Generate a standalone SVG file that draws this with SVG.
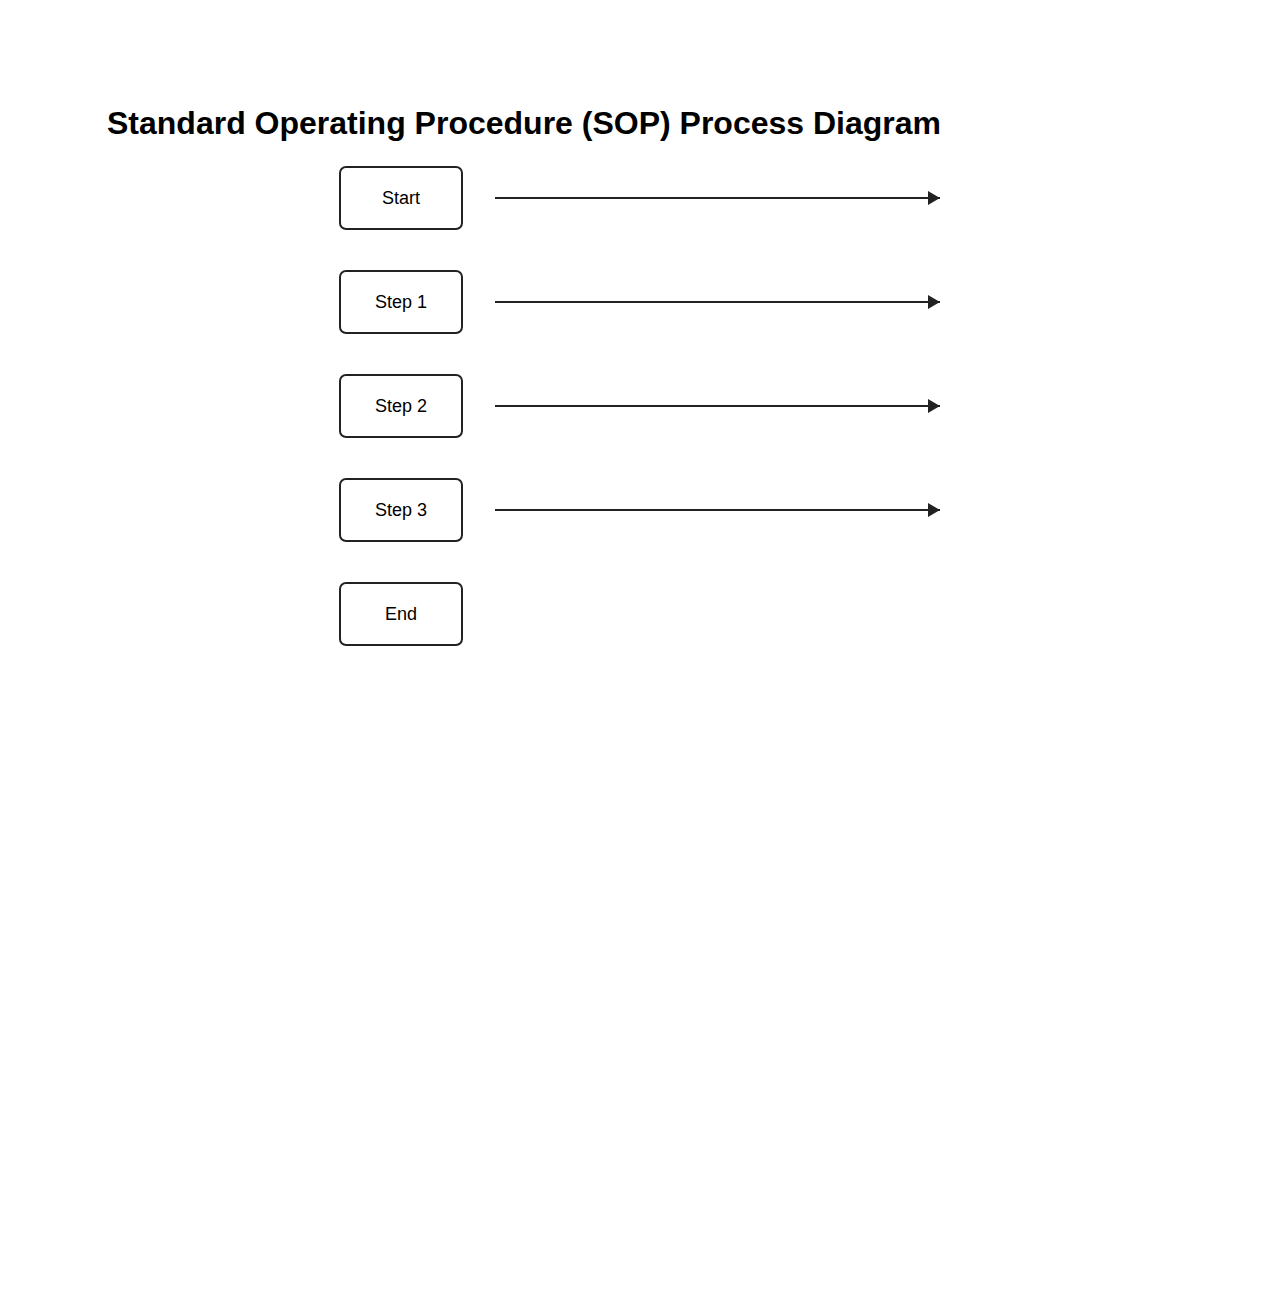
<svg xmlns="http://www.w3.org/2000/svg" width="1278" height="1300" viewBox="0 0 1278 1300">
<defs>
<style>
.node rect{fill:#fff;stroke:#222;stroke-width:2}
.node text{font-family:"Liberation Sans",Arial,sans-serif;font-size:18px;fill:#000;text-anchor:middle}
.title{font-family:"Liberation Sans",Arial,sans-serif;font-size:32px;font-weight:bold;fill:#000}
.edge{stroke:#222;stroke-width:2;fill:none;marker-end:url(#arrow)}
</style>
<marker id="arrow" markerWidth="12" markerHeight="14" refX="12" refY="7" orient="auto" markerUnits="userSpaceOnUse">
<path d="M0,0 L12,7 L0,14 Z" fill="#222"/>
</marker>
</defs>
<rect width="1278" height="1300" fill="#fff"/>
<text class="title" x="107" y="134">Standard Operating Procedure (SOP) Process Diagram</text>
<g id="start" class="node"><rect x="340" y="167" width="122" height="62" rx="6"/><text x="401" y="204">Start</text></g>
<g id="step1" class="node"><rect x="340" y="271" width="122" height="62" rx="6"/><text x="401" y="308">Step 1</text></g>
<g id="step2" class="node"><rect x="340" y="375" width="122" height="62" rx="6"/><text x="401" y="412">Step 2</text></g>
<g id="step3" class="node"><rect x="340" y="479" width="122" height="62" rx="6"/><text x="401" y="516">Step 3</text></g>
<g id="end" class="node"><rect x="340" y="583" width="122" height="62" rx="6"/><text x="401" y="620">End</text></g>
<g id="connectors">
<line class="edge" x1="495" y1="198" x2="940" y2="198"/>
<line class="edge" x1="495" y1="302" x2="940" y2="302"/>
<line class="edge" x1="495" y1="406" x2="940" y2="406"/>
<line class="edge" x1="495" y1="510" x2="940" y2="510"/>
</g>
</svg>
